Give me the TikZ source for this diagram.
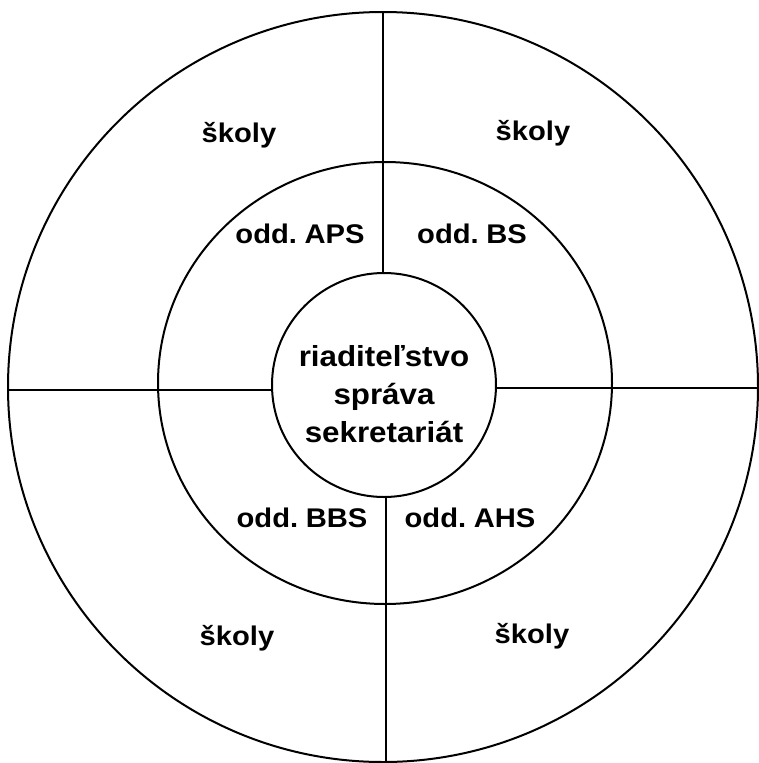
\documentclass[tikz,border=0pt]{standalone}
\usepackage{fontspec}
\setmainfont{Liberation Sans}[FakeStretch=1.08,WordSpace=0.6]
\begin{document}
\begin{tikzpicture}[x=1pt,y=-1pt,
  ring/.style={draw=black,line width=2pt},
  sep/.style={draw=black,line width=2.2pt},
  lbl/.style={font=\fontsize{27}{36}\selectfont\bfseries,inner sep=0pt,anchor=base,text=black},
  mid/.style={lbl,font=\fontsize{29}{38}\selectfont\bfseries}]
\useasboundingbox (0,0) rectangle (758,763);
% rings
\draw[ring] (383,387) circle[radius=375];
\draw[ring] (385,383) ellipse[x radius=227,y radius=221];
\node[ring,circle,minimum size=224pt,inner sep=0pt] (c) at (384,385) {};
% outer end points of separators
\coordinate (top) at (383,12);
\coordinate (bot) at (386,763);
\coordinate (lft) at (8,390);
\coordinate (rgt) at (758,388);
\draw[sep] (c.north -| top) -- (top);
\draw[sep] (c.south -| bot) -- (bot);
\draw[sep] (c.west |- lft) -- (lft);
\draw[sep] (c.east |- rgt) -- (rgt);
% labels
\node[lbl] (s1) at (239,142) {školy};
\node[lbl] (s2) at (533,140) {školy};
\node[lbl] (s3) at (237,645) {školy};
\node[lbl] (s4) at (532,643) {školy};
\node[lbl] (o1) at (300,243) {odd. APS};
\node[lbl] (o2) at (472,243) {odd. BS};
\node[lbl] (o3) at (302,527) {odd. BBS};
\node[lbl] (o4) at (470,527) {odd. AHS};
\node[mid] (t1) at (384,366) {riaditeľstvo};
\node[mid] (t2) at (384,404) {správa};
\node[mid] (t3) at (384,442) {sekretariát};
\end{tikzpicture}
\end{document}
